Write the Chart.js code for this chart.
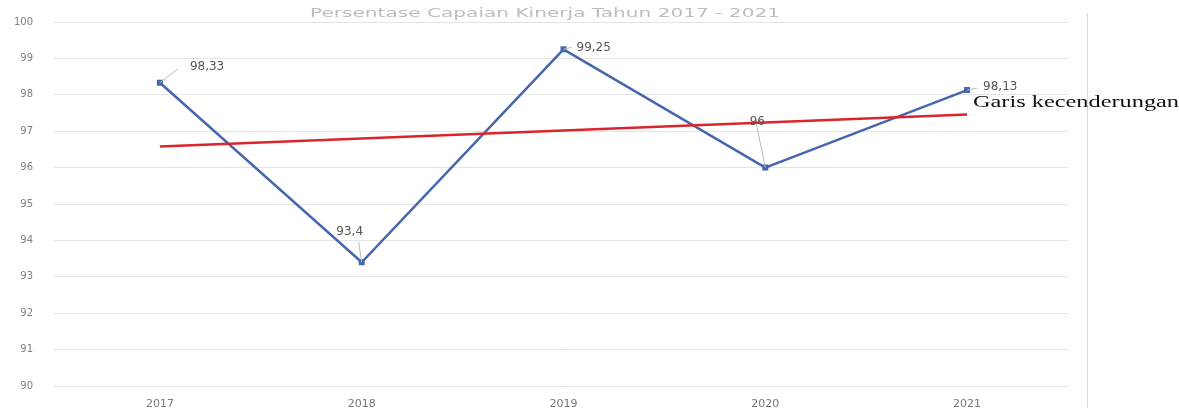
<!DOCTYPE html>
<html>
<head>
<meta charset="utf-8">
<script src="https://cdn.jsdelivr.net/npm/chart.js"></script>
<style>
  html, body { margin: 0; padding: 0; background: #fff; overflow: hidden; }
  #wrap { position: relative; width: 1179px; height: 420px; }
</style>
</head>
<body>
<div id="wrap"><canvas id="chart"></canvas></div>
<script>
// ========== DATA ========== //
const years = ['2017', '2018', '2019', '2020', '2021'];
const values = [98.33, 93.4, 99.25, 96, 98.13];
const trendValues = [96.58, 96.80, 97.02, 97.24, 97.46];
const yTicks = [90, 91, 92, 93, 94, 95, 96, 97, 98, 99, 100];
const chartTitle = 'Persentase Capaian Kinerja Tahun 2017 - 2021';
const trendLabel = 'Garis kecenderungan';

// label offsets for data labels (dx, dy from point, leader end)
const labelOffsets = [
    { dx: 30, dy: -16, lx: 18, ly: -14, align: 'left' },
    { dx: -12, dy: -30, lx: -3, ly: -20, align: 'center' },
    { dx: 13, dy: -1, lx: 8, ly: -2, align: 'left' },
    { dx: -8, dy: -46, lx: -9, ly: -44, align: 'center' },
    { dx: 16, dy: -3, lx: 10, ly: -2, align: 'left' }
];

const fmt = v => String(v).replace('.', ',');

// ========== EXTRA DRAWING ========== //
const decorPlugin = {
    id: 'decor',
    afterDatasetsDraw(chart) {
        const ctx = chart.ctx;
        const meta = chart.getDatasetMeta(1);
        ctx.save();
        // data labels with leader lines
        ctx.font = '12px "DejaVu Sans", sans-serif';
        ctx.textBaseline = 'middle';
        meta.data.forEach((pt, i) => {
            const o = labelOffsets[i];
            ctx.strokeStyle = '#b8b8b8';
            ctx.lineWidth = 1;
            ctx.beginPath();
            ctx.moveTo(pt.x, pt.y);
            ctx.lineTo(pt.x + o.lx, pt.y + o.ly);
            ctx.stroke();
            ctx.fillStyle = '#555';
            ctx.textAlign = o.align;
            ctx.fillText(fmt(values[i]), pt.x + o.dx, pt.y + o.dy);
        });
        ctx.restore();
    },
    afterDraw(chart) {
        const ctx = chart.ctx;
        ctx.save();
        // faint title
        ctx.font = '12px "DejaVu Sans", sans-serif';
        ctx.fillStyle = '#bdbdbd';
        ctx.textAlign = 'left';
        ctx.textBaseline = 'middle';
        const tw = ctx.measureText(chartTitle).width;
        ctx.save();
        ctx.translate(310, 14);
        ctx.scale(470 / tw, 1);
        ctx.fillText(chartTitle, 0, 0);
        ctx.restore();
        // right frame line
        ctx.strokeStyle = '#dcdcdc';
        ctx.lineWidth = 1;
        ctx.beginPath();
        ctx.moveTo(1087.5, 13);
        ctx.lineTo(1087.5, 420);
        ctx.stroke();
        // trend legend text
        ctx.font = '16px "Liberation Serif", serif';
        ctx.fillStyle = '#111';
        ctx.textAlign = 'left';
        const w = ctx.measureText(trendLabel).width;
        ctx.translate(973, 103);
        ctx.scale(206 / w, 1);
        ctx.fillText(trendLabel, 0, 0);
        ctx.restore();
    }
};

// ========== CHART ========== //
new Chart(document.getElementById('chart'), {
    type: 'line',
    data: {
        labels: years,
        datasets: [
            {
                label: trendLabel,
                data: trendValues,
                borderColor: '#d9252b',
                borderWidth: 2.5,
                pointRadius: 0,
                tension: 0,
                order: 0
            },
            {
                label: 'Nilai',
                data: values,
                borderColor: '#4667ad',
                backgroundColor: '#4667ad',
                borderWidth: 2.5,
                pointStyle: 'rect',
                pointRadius: 2.5,
                tension: 0,
                order: 1
            }
        ]
    },
    options: {
        responsive: true,
        maintainAspectRatio: false,
        animation: false,
        layout: { padding: { top: 22, right: 111, left: 0, bottom: 0 } },
        plugins: {
            legend: { display: false },
            tooltip: { enabled: false },
            title: { display: false }
        },
        scales: {
            x: {
                offset: true,
                grid: { display: false, drawTicks: false },
                border: { display: false },
                afterFit: axis => { axis.height = 34; },
                ticks: {
                    color: '#777',
                    font: { size: 11, family: '"DejaVu Sans", sans-serif' },
                    padding: 12
                }
            },
            y: {
                min: 90,
                max: 100,
                afterBuildTicks: axis => { axis.ticks = yTicks.map(v => ({ value: v })); },
                afterFit: axis => {
                    axis.width = 59;
                    axis.paddingTop = 0;
                    axis.paddingBottom = 0;
                },
                grid: { color: '#e4e4e4', lineWidth: 1, tickLength: 5 },
                border: { display: false },
                ticks: {
                    color: '#808080',
                    font: { size: 10, family: '"DejaVu Sans", sans-serif' },
                    padding: 21
                }
            }
        }
    },
    plugins: [decorPlugin]
});
</script>
</body>
</html>
